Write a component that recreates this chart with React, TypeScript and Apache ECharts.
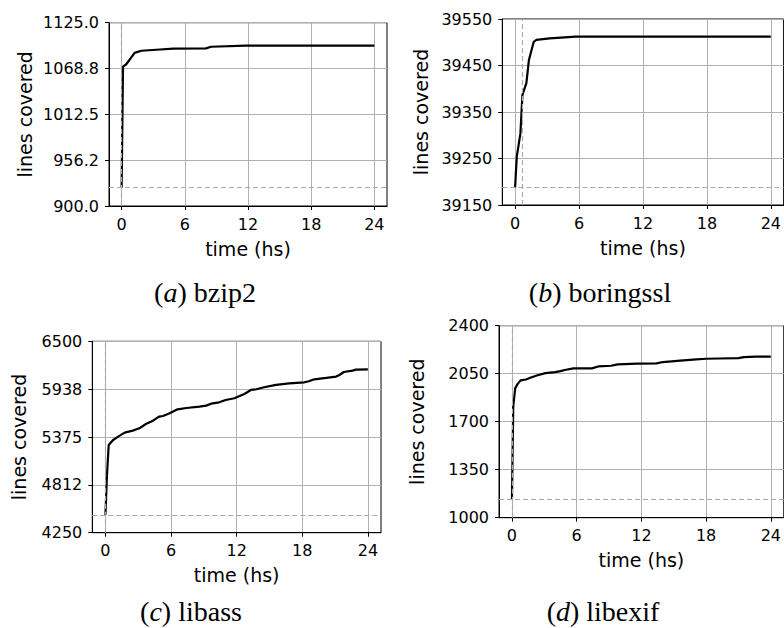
import React, { useEffect, useRef } from "react";
import * as echarts from "echarts";

// ---- data ----
const xTicks = [0, 6, 12, 18, 24];

const timeA = [0, 0.13, 0.44, 1.23, 1.87, 3.3, 4.9, 8.0, 8.5, 11.8, 24];
const valA = [922.5, 1071, 1074, 1088, 1090.6, 1091.8, 1093.1, 1093.5, 1095.5, 1096.8, 1096.8];
const yTicksA = [900, 956.25, 1012.5, 1068.75, 1125];
const yLabelsA = ["900.0", "956.2", "1012.5", "1068.8", "1125.0"];
const baseA = 922.5;
const vlineA = 0;

const timeB = [0, 0.16, 0.5, 0.69, 1.06, 1.3, 1.75, 2.0, 3.24, 5.7, 24];
const valB = [39188, 39254, 39304, 39387, 39412, 39462, 39501, 39505, 39508.5, 39512, 39512];
const yTicksB = [39150, 39250, 39350, 39450, 39550];
const yLabelsB = ["39150", "39250", "39350", "39450", "39550"];
const baseB = 39189;
const vlineB = 0.65;

const timeC = [0, 0.15, 0.3, 0.7, 1.16, 1.76, 2.5, 3.1, 3.7, 4.35, 4.9, 5.26, 5.87, 6.6, 7.4, 8.6, 9.2, 9.67, 10.4, 11.0, 11.8, 12.0, 12.7, 13.3, 13.8, 14.5, 15.6, 16.8, 18.2, 18.6, 19.1, 20.2, 21.1, 21.4, 21.8, 22.6, 22.9, 24];
const valC = [4458, 4948, 5281, 5340, 5380, 5427, 5450, 5477, 5528, 5567, 5614, 5622, 5653, 5700, 5716, 5732, 5744, 5767, 5783, 5810, 5830, 5842, 5881, 5928, 5936, 5960, 5987, 6006, 6018, 6030, 6053, 6069, 6085, 6104, 6139, 6155, 6167, 6171];
const yTicksC = [4250, 4812.5, 5375, 5937.5, 6500];
const yLabelsC = ["4250", "4812", "5375", "5938", "6500"];
const baseC = 4458;
const vlineC = 0;

const timeD = [0, 0.12, 0.3, 0.5, 0.8, 1.3, 1.7, 2.3, 3.1, 4.0, 4.5, 4.9, 5.7, 7.4, 8.0, 9.2, 9.8, 11.6, 13.4, 14.0, 15.6, 17.1, 18.0, 19.2, 21.0, 21.5, 22.6, 24];
const valD = [1136, 1809, 1943, 1972, 2001, 2008, 2020, 2037, 2054, 2062, 2069, 2077, 2089, 2089, 2103, 2108, 2118, 2123, 2125, 2135, 2145, 2154, 2159, 2161, 2164, 2171, 2174, 2174];
const yTicksD = [1000, 1350, 1700, 2050, 2400];
const yLabelsD = ["1000", "1350", "1700", "2050", "2400"];
const baseD = 1136;
const vlineD = 0;

const captions = [
  { letter: "a", name: "bzip2" },
  { letter: "b", name: "boringssl" },
  { letter: "c", name: "libass" },
  { letter: "d", name: "libexif" },
];

export default function App() {
  const ref = useRef<HTMLDivElement>(null);

  useEffect(() => {
    if (!ref.current) return;
    const chart = echarts.init(ref.current, null, { renderer: "svg" });

    const panels = [
      { t: timeA, v: valA, yt: yTicksA, yl: yLabelsA, base: baseA, vx: vlineA,
        grid: { left: 109, top: 22.7, width: 278, height: 183.3 }, yGap: 75, cap: [205, 292] },
      { t: timeB, v: valB, yt: yTicksB, yl: yLabelsB, base: baseB, vx: vlineB,
        grid: { left: 502.3, top: 19, width: 282.4, height: 186 }, yGap: 72, cap: [600, 292] },
      { t: timeC, v: valC, yt: yTicksC, yl: yLabelsC, base: baseC, vx: vlineC,
        grid: { left: 92.3, top: 341.3, width: 288.7, height: 191.4 }, yGap: 64, cap: [191, 611] },
      { t: timeD, v: valD, yt: yTicksD, yl: yLabelsD, base: baseD, vx: vlineD,
        grid: { left: 499, top: 325.7, width: 289.8, height: 192 }, yGap: 73, cap: [603, 611] },
    ];

    const tickFont = { fontFamily: "DejaVu Sans", fontSize: 16, color: "#000" };
    const nameFont = { fontFamily: "DejaVu Sans", fontSize: 19, color: "#000" };
    const gridLine = { show: true, lineStyle: { color: "#b0b0b0", width: 1 } };

    const option: any = {
      animation: false,
      grid: panels.map((p) => ({
        ...p.grid,
        show: true,
        borderColor: "#000",
        borderWidth: 1,
        backgroundColor: "transparent",
        containLabel: false,
      })),
      xAxis: panels.map((p, i) => ({
        type: "value",
        gridIndex: i,
        min: -1.2,
        max: 25.2,
        name: "time (hs)",
        nameLocation: "middle",
        nameGap: 33,
        nameTextStyle: nameFont,
        axisLine: { show: true, onZero: false, lineStyle: { color: "#000", width: 1 } },
        axisTick: { show: true, length: 4, lineStyle: { color: "#000" }, customValues: xTicks },
        axisLabel: { ...tickFont, margin: 10, customValues: xTicks, formatter: (v: number) => String(v) },
        splitLine: gridLine,
      })),
      yAxis: panels.map((p, i) => ({
        type: "value",
        gridIndex: i,
        min: p.yt[0],
        max: p.yt[p.yt.length - 1],
        name: "lines covered",
        nameLocation: "middle",
        nameGap: p.yGap,
        nameRotate: 90,
        nameTextStyle: nameFont,
        axisLine: { show: true, onZero: false, lineStyle: { color: "#000", width: 1 } },
        axisTick: { show: true, length: 4, lineStyle: { color: "#000" }, customValues: p.yt },
        axisLabel: {
          ...tickFont,
          margin: 10,
          customValues: p.yt,
          formatter: (v: number) => {
            const idx = p.yt.findIndex((x) => Math.abs(x - v) < 1e-6);
            return idx >= 0 ? p.yl[idx] : "";
          },
        },
        splitLine: gridLine,
      })),
      series: panels.map((p, i) => ({
        type: "line",
        xAxisIndex: i,
        yAxisIndex: i,
        data: p.t.map((t, j) => [t, p.v[j]]),
        showSymbol: false,
        symbol: "none",
        lineStyle: { color: "#000", width: 2.2 },
        markLine: {
          silent: true,
          symbol: "none",
          label: { show: false },
          lineStyle: { color: "#aaaaaa", type: [5, 3], width: 1.2 },
          data: [{ yAxis: p.base }, { xAxis: p.vx }],
        },
        z: 3,
      })),
      graphic: panels.map((p, i) => ({
        type: "text",
        x: p.cap[0],
        y: p.cap[1],
        style: {
          text: `({it|${captions[i].letter}}) ${captions[i].name}`,
          fontFamily: "Liberation Serif",
          fontSize: 28,
          fill: "#000",
          align: "center",
          verticalAlign: "middle",
          rich: { it: { fontStyle: "italic", fontFamily: "Liberation Serif", fontSize: 28 } },
        },
      })),
    };

    chart.setOption(option);
    return () => chart.dispose();
  }, []);

  return (
    <div
      ref={ref}
      style={{ position: "fixed", left: 0, top: 0, width: 784, height: 628, background: "#fff" }}
    />
  );
}
